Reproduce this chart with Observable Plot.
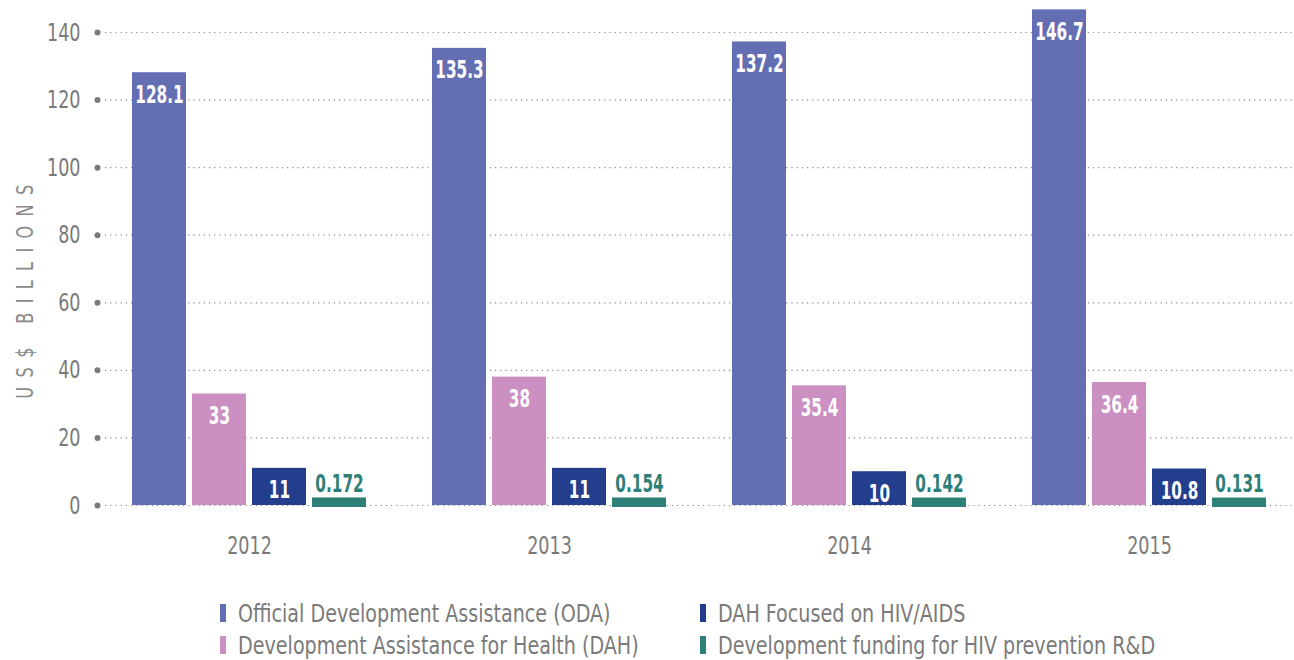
<!DOCTYPE html>
<html>
<head>
<meta charset="utf-8">
<script src="https://cdn.jsdelivr.net/npm/d3@7"></script>
<script src="https://cdn.jsdelivr.net/npm/@observablehq/plot@0.6"></script>
<style>
  html, body { margin: 0; padding: 0; background: #fff; }
  body { width: 1294px; height: 660px; position: relative; overflow: hidden;
         font-family: "DejaVu Sans Condensed", "Liberation Sans Narrow", sans-serif; }
  #chart { position: absolute; left: 0; top: 0; }
  .ytitle text { letter-spacing: 12px; }
  #legend { position: absolute; left: 220px; top: 597px; display: grid;
            grid-template-columns: 480px 480px; grid-auto-rows: 32px; }
  .item { display: flex; align-items: center; font-size: 25px; color: #7a7a7a; white-space: nowrap; }
  .sw { width: 6px; height: 18px; margin-right: 12px; display: inline-block; flex-shrink: 0; }
  .lt { display: inline-block; transform: scaleX(0.85); transform-origin: left center; }
</style>
</head>
<body>
<div id="chart"></div>
<div id="legend"></div>
<script>
const years = ["2012", "2013", "2014", "2015"];
const seriesNames = [
  "Official Development Assistance (ODA)",
  "Development Assistance for Health (DAH)",
  "DAH Focused on HIV/AIDS",
  "Development funding for HIV prevention R&D"
];
const seriesColors = ["#646eb3", "#cb8fc2", "#243e8e", "#2e7f78"];
const odaValues = [128.1, 135.3, 137.2, 146.7];
const dahValues = [33, 38, 35.4, 36.4];
const hivValues = [11, 11, 10, 10.8];
const rdValues = [0.172, 0.154, 0.142, 0.131];
const yTicks = [0, 20, 40, 60, 80, 100, 120, 140];
const yTitle = "US$ BILLIONS";

const seriesValues = [odaValues, dahValues, hivValues, rdValues];
const font = '"DejaVu Sans Condensed", "Liberation Sans Narrow", sans-serif';

// sub-band layout inside each year band (bar width 54, gap 6, band 234)
const barW = 54, gap = 6, bandW = 4 * barW + 3 * gap;

const marks = [
  Plot.gridY(yTicks, {stroke: "#8a8a8a", strokeOpacity: 1, strokeWidth: 1.2, strokeDasharray: "1.2,4"}),
  Plot.dot(yTicks, {y: d => d, frameAnchor: "left", dx: -8, r: 3, fill: "#7a7a7a", stroke: null}),
  Plot.axisY(yTicks, {tickSize: 0, tickPadding: 25, fontSize: 25, fill: "#7a7a7a", label: null, fontFamily: font}),
  Plot.axisX({tickSize: 0, tickPadding: 31, fontSize: 25, fill: "#7a7a7a", label: null, fontFamily: font}),
  Plot.text([yTitle], {frameAnchor: "left", textAnchor: "middle", rotate: -90, dx: -80, dy: 18,
                       fontSize: 23, fill: "#8a8a8a", fontFamily: font, className: "ytitle"})
];

seriesValues.forEach((vals, i) => {
  const rows = years.map((y, j) => ({year: y, value: vals[j]}));
  const left = i * (barW + gap);
  const right = bandW - left - barW;
  const isRd = i === 3;
  marks.push(Plot.barY(rows, {
    x: "year", y: "value", fill: seriesColors[i],
    insetLeft: left, insetRight: right,
    insetTop: isRd ? -7 : 0, insetBottom: isRd ? -2 : 0
  }));
  const dxc = left + barW / 2 - bandW / 2;
  marks.push(Plot.text(rows, {
    x: "year", y: "value", text: d => String(d.value),
    dx: dxc, dy: isRd ? -21 : 22,
    fill: isRd ? seriesColors[3] : "#ffffff",
    fontSize: 25, fontWeight: "bold", fontFamily: font, className: "vlabel"
  }));
});

const chart = Plot.plot({
  width: 1294,
  height: 580,
  marginLeft: 105,
  marginRight: 2,
  marginTop: 32,
  marginBottom: 75,
  style: {fontFamily: font, background: "transparent", overflow: "visible"},
  x: {domain: years, paddingInner: 0.22, paddingOuter: 0.0867, axis: null},
  y: {domain: [0, 140], axis: null},
  marks
});
document.getElementById("chart").appendChild(chart);

// condense all chart text horizontally (the original uses a condensed typeface)
chart.querySelectorAll("text").forEach(t => {
  const tr = t.getAttribute("transform") || "";
  const s = t.closest(".vlabel") ? 0.68 : 0.78;
  t.setAttribute("transform", (tr + ` scale(${s},1)`).trim());
});

const order = [0, 2, 1, 3];
const legend = document.getElementById("legend");
order.forEach(i => {
  const item = document.createElement("div");
  item.className = "item";
  const sw = document.createElement("span");
  sw.className = "sw";
  sw.style.background = seriesColors[i];
  item.appendChild(sw);
  const lt = document.createElement("span");
  lt.className = "lt";
  lt.textContent = seriesNames[i];
  item.appendChild(lt);
  legend.appendChild(item);
});
</script>
</body>
</html>
